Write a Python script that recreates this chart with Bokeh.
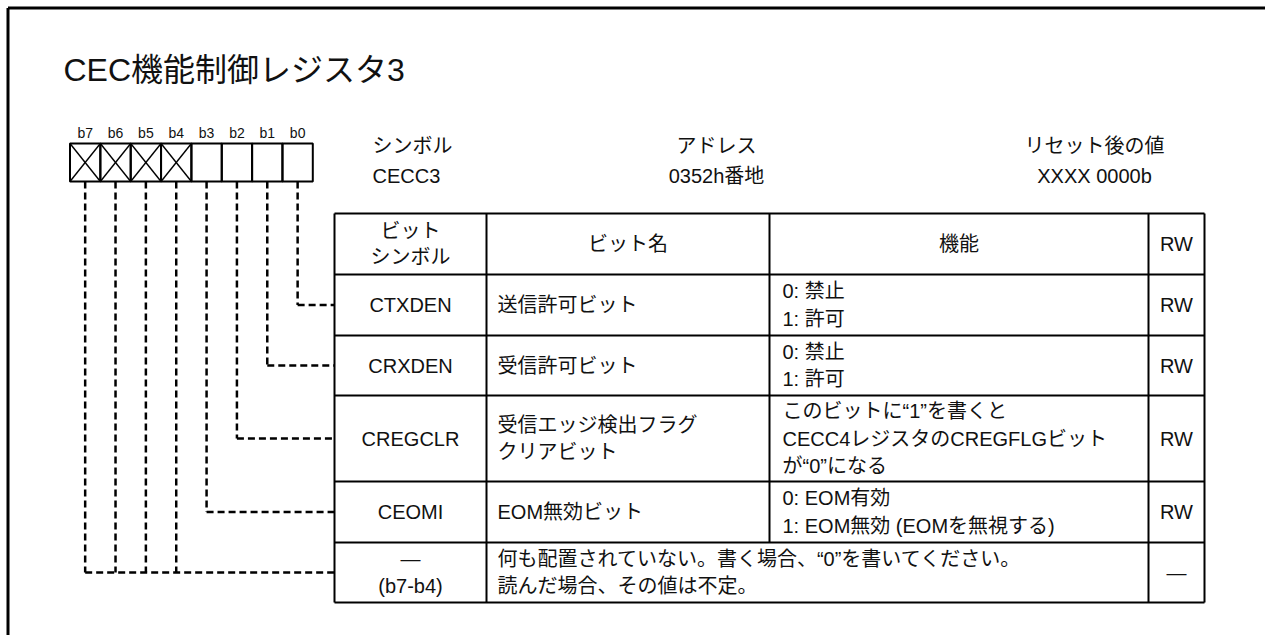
from bokeh.plotting import figure
from bokeh.models import Range1d
from bokeh.core.properties import value
from bokeh.embed import file_html
from bokeh.resources import INLINE

# ---------------- data ----------------
title_text = "CEC機能制御レジスタ3"
bit_labels = ["b7", "b6", "b5", "b4", "b3", "b2", "b1", "b0"]
bit_reserved = [True, True, True, True, False, False, False, False]

info_heads = ["シンボル", "アドレス", "リセット後の値"]
info_values = ["CECC3", "0352h番地", "XXXX 0000b"]

col_heads = ["ビット\nシンボル", "ビット名", "機能", "RW"]
symbols = ["CTXDEN", "CRXDEN", "CREGCLR", "CEOMI", "—\n(b7-b4)"]
bit_names = ["送信許可ビット", "受信許可ビット", "受信エッジ検出フラグ\nクリアビット",
             "EOM無効ビット", "何も配置されていない。書く場合、“0”を書いてください。\n読んだ場合、その値は不定。"]
functions = ["0: 禁止\n1: 許可", "0: 禁止\n1: 許可",
             "このビットに“1”を書くと\nCECC4レジスタのCREGFLGビット\nが“0”になる",
             "0: EOM有効\n1: EOM無効 (EOMを無視する)", ""]
rw = ["RW", "RW", "RW", "RW", "—"]
row_bits = [["b0"], ["b1"], ["b2"], ["b3"], ["b7", "b6", "b5", "b4"]]

# ---------------- layout ----------------
W, H = 1265, 635
FONT = value("Liberation Sans, Noto Sans CJK JP")
INK = "#111111"

box_left, cell_w = 69.5, 30.35
box_top, box_bot = 143, 181
col_edges = [334, 486, 769, 1148, 1204]
row_edges = [213, 274, 335, 395, 481, 542, 602]

p = figure(width=W, height=H, output_backend="svg", toolbar_location=None,
           x_range=Range1d(0, W), y_range=Range1d(H, 0),
           x_axis_type=None, y_axis_type=None, min_border=0)
p.grid.visible = False
p.outline_line_color = None
p.outline_line_alpha = 0
p.outline_line_width = 0
p.background_fill_color = "white"
p.border_fill_color = "white"

# outer frame (left & top edges)
p.segment(x0=[7.5, 7.5], y0=[H + 5, 7.5], x1=[7.5, W + 5], y1=[7.5, 7.5],
          line_color="black", line_width=3)

# title
p.text(x=[63], y=[69], text=[title_text], text_font=FONT, text_font_size="32px",
       text_baseline="middle", text_align="left", text_color=INK)

# bit cells
n = len(bit_labels)
lefts = [box_left + i * cell_w for i in range(n)]
rights = [l + cell_w for l in lefts]
centers = [l + cell_w / 2 for l in lefts]
bx = dict(zip(bit_labels, centers))
p.quad(left=lefts, right=rights, top=[box_top] * n, bottom=[box_bot] * n,
       fill_color=None, line_color="black", line_width=2)
rl = [l for l, r in zip(lefts, bit_reserved) if r]
rr = [l + cell_w for l, r in zip(lefts, bit_reserved) if r]
p.segment(x0=rl + rl, y0=[box_top] * len(rl) + [box_bot] * len(rl),
          x1=rr + rr, y1=[box_bot] * len(rl) + [box_top] * len(rl),
          line_color="black", line_width=1.4)
p.text(x=centers, y=[132] * n, text=bit_labels, text_font=FONT, text_font_size="14px",
       text_align="center", text_baseline="middle", text_color=INK)

# info header
p.text(x=[372, 372], y=[145, 175], text=[info_heads[0], info_values[0]], text_font=FONT,
       text_font_size="20px", text_align="left", text_baseline="middle", text_color=INK)
p.text(x=[716, 716, 1094, 1094], y=[145, 175, 145, 175],
       text=[info_heads[1], info_values[1], info_heads[2], info_values[2]], text_font=FONT,
       text_font_size="20px", text_align="center", text_baseline="middle", text_color=INK)

# table grid
tl, tr = col_edges[0], col_edges[-1]
p.segment(x0=[tl] * len(row_edges), x1=[tr] * len(row_edges), y0=row_edges, y1=row_edges,
          line_color="black", line_width=2)
vx = [col_edges[0], col_edges[1], col_edges[3], col_edges[4], col_edges[2]]
vy1 = [row_edges[-1]] * 4 + [row_edges[-2]]
p.segment(x0=vx, x1=vx, y0=[row_edges[0]] * 5, y1=vy1, line_color="black", line_width=2)

row_c = [(a + b) / 2 for a, b in zip(row_edges[:-1], row_edges[1:])]
col_c = [(a + b) / 2 for a, b in zip(col_edges[:-1], col_edges[1:])]

# header row
p.text(x=col_c, y=[row_c[0]] * 4, text=col_heads, text_font=FONT, text_font_size="20px",
       text_align="center", text_baseline="middle", text_line_height=1.2, text_color=INK)

body_c = row_c[1:]
p.text(x=[col_c[0]] * len(symbols), y=body_c, text=symbols, text_font=FONT, text_font_size="20px",
       text_align="center", text_baseline="middle", text_line_height=1.25, text_color=INK)
p.text(x=[col_edges[1] + 11] * len(bit_names), y=body_c, text=bit_names, text_font=FONT,
       text_font_size="20px", text_align="left", text_baseline="middle", text_line_height=1.25,
       text_color=INK)
p.text(x=[col_edges[2] + 13] * len(functions), y=body_c, text=functions, text_font=FONT,
       text_font_size="20px", text_align="left", text_baseline="middle", text_line_height=1.25,
       text_color=INK)
p.text(x=[col_c[3]] * len(rw), y=body_c, text=rw, text_font=FONT, text_font_size="20px",
       text_align="center", text_baseline="middle", text_color=INK)

# dashed connectors
xs, ys = [], []
for bits, yc in zip(row_bits, body_c):
    pts = [bx[b] for b in bits]
    for x in pts:
        xs.append([x, x])
        ys.append([box_bot, yc])
    xs.append([min(pts), tl])
    ys.append([yc, yc])
p.multi_line(xs=xs, ys=ys, line_color="black", line_width=2.5, line_dash="7 4")

open("out.html", "w").write(file_html(p, INLINE))
